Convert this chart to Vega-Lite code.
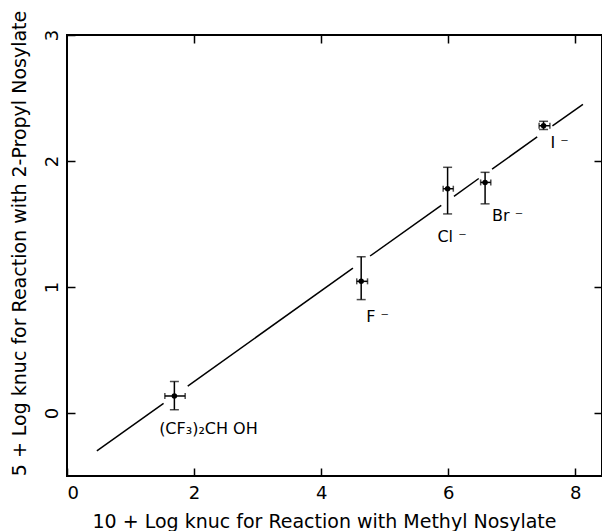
{
  "$schema": "https://vega.github.io/schema/vega-lite/v6.json",
  "width": 535,
  "height": 441,
  "autosize": "none",
  "padding": {"left": 67, "top": 35, "right": 0, "bottom": 55},
  "background": "white",
  "config": {
    "font": "DejaVu Sans",
    "view": {"stroke": "black", "strokeWidth": 2},
    "axis": {"grid": false, "domain": false, "tickColor": "black", "tickWidth": 1.5, "labelColor": "black", "titleColor": "black", "labelFont": "DejaVu Sans", "titleFont": "DejaVu Sans", "titleFontWeight": "normal"}
  },
  "datasets": {
    "fit": [
      {"seg": 1, "x": 0.47, "y": -0.30}, {"seg": 1, "x": 1.52, "y": 0.077},
      {"seg": 2, "x": 1.90, "y": 0.214}, {"seg": 2, "x": 4.50, "y": 1.149},
      {"seg": 3, "x": 4.77, "y": 1.246}, {"seg": 3, "x": 5.89, "y": 1.648},
      {"seg": 4, "x": 6.09, "y": 1.720}, {"seg": 4, "x": 6.48, "y": 1.861},
      {"seg": 5, "x": 6.69, "y": 1.936}, {"seg": 5, "x": 7.40, "y": 2.191},
      {"seg": 6, "x": 7.64, "y": 2.278}, {"seg": 6, "x": 8.12, "y": 2.45}
    ],
    "points": [
      {"name": "(CF3)2CHOH", "x": 1.69, "y": 0.135, "xlo": 1.54, "xhi": 1.86, "ylo": 0.026, "yhi": 0.25},
      {"name": "F-", "x": 4.63, "y": 1.045, "xlo": 4.56, "xhi": 4.73, "ylo": 0.90, "yhi": 1.24},
      {"name": "Cl-", "x": 5.99, "y": 1.78, "xlo": 5.92, "xhi": 6.08, "ylo": 1.58, "yhi": 1.95},
      {"name": "Br-", "x": 6.58, "y": 1.83, "xlo": 6.51, "xhi": 6.67, "ylo": 1.66, "yhi": 1.91},
      {"name": "I-", "x": 7.50, "y": 2.28, "xlo": 7.43, "xhi": 7.60, "ylo": 2.25, "yhi": 2.315}
    ],
    "labels": [
      {"label": "(CF₃)₂CH OH", "x": 1.45, "y": -0.13},
      {"label": "F ⁻", "x": 4.71, "y": 0.76},
      {"label": "Cl ⁻", "x": 5.83, "y": 1.40},
      {"label": "Br ⁻", "x": 6.69, "y": 1.56},
      {"label": "I ⁻", "x": 7.61, "y": 2.14}
    ]
  },
  "layer": [
    {
      "data": {"name": "fit"},
      "mark": {"type": "line", "color": "black", "strokeWidth": 1.5},
      "encoding": {
        "x": {"field": "x", "type": "quantitative", "scale": {"domain": [0, 8.42], "nice": false, "zero": false},
          "axis": {"orient": "bottom", "values": [0, 2, 4, 6, 8], "tickSize": -8, "labelPadding": 16, "labelFontSize": 18, "title": "10 + Log knuc for Reaction with Methyl Nosylate", "titleFontSize": 19, "titlePadding": 10, "titleX": 257}},
        "y": {"field": "y", "type": "quantitative", "scale": {"domain": [-0.5, 3], "nice": false, "zero": false},
          "axis": {"orient": "left", "values": [0, 1, 2, 3], "tickSize": -8, "labelPadding": 14, "labelAngle": -90, "labelFontSize": 18, "title": "5 + Log knuc for Reaction with 2-Propyl Nosylate", "titleFontSize": 19, "titlePadding": 14, "titleY": 208}},
        "detail": {"field": "seg"}
      }
    },
    {
      "data": {"name": "points"},
      "mark": {"type": "point", "opacity": 0},
      "encoding": {
        "x": {"field": "x", "type": "quantitative", "axis": {"orient": "top", "values": [2, 4, 6, 8], "labels": false, "tickSize": -8, "title": null}},
        "y": {"field": "y", "type": "quantitative", "axis": {"orient": "right", "values": [0, 1, 2], "labels": false, "tickSize": -8, "title": null}}
      }
    },
    {
      "data": {"name": "points"},
      "mark": {"type": "errorbar", "ticks": {"size": 9}, "color": "black", "thickness": 1.5},
      "encoding": {
        "x": {"field": "x", "type": "quantitative", "axis": null},
        "y": {"field": "ylo", "type": "quantitative", "axis": null},
        "y2": {"field": "yhi"}
      }
    },
    {
      "data": {"name": "points"},
      "mark": {"type": "errorbar", "ticks": {"size": 6}, "color": "black", "thickness": 1.5},
      "encoding": {
        "x": {"field": "xlo", "type": "quantitative", "axis": null},
        "x2": {"field": "xhi"},
        "y": {"field": "y", "type": "quantitative", "axis": null}
      }
    },
    {
      "data": {"name": "points"},
      "mark": {"type": "point", "filled": true, "color": "black", "size": 30, "opacity": 1},
      "encoding": {
        "x": {"field": "x", "type": "quantitative", "axis": null},
        "y": {"field": "y", "type": "quantitative", "axis": null}
      }
    },
    {
      "data": {"name": "labels"},
      "mark": {"type": "text", "align": "left", "baseline": "middle", "fontSize": 16, "color": "black", "font": "DejaVu Sans"},
      "encoding": {
        "x": {"field": "x", "type": "quantitative", "axis": null},
        "y": {"field": "y", "type": "quantitative", "axis": null},
        "text": {"field": "label"}
      }
    }
  ],
  "resolve": {"axis": {"x": "independent", "y": "independent"}}
}
